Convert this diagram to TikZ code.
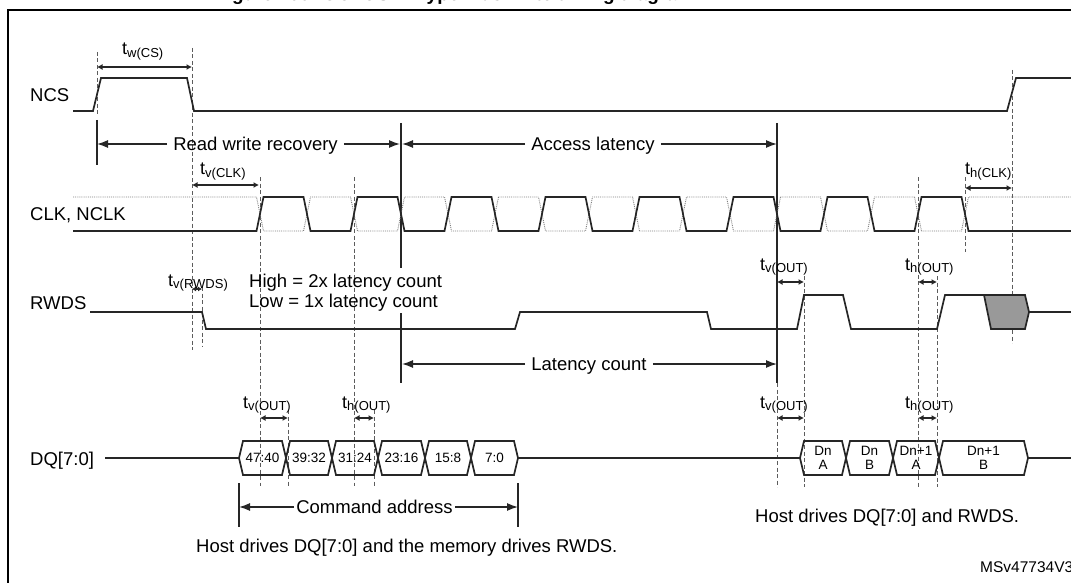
\documentclass[tikz,border=0pt]{standalone}
\usepackage{fontspec}
\setmainfont{Liberation Sans}
\usepackage{xcolor}
\usetikzlibrary{arrows.meta}

\definecolor{sigcol}{HTML}{262626}
\definecolor{guidecol}{HTML}{5C5C5C}
\definecolor{nclkcol}{HTML}{7F7F7F}
\definecolor{maskcol}{HTML}{999999}

\newcommand{\tname}[2]{t\raisebox{-0.3ex}{\fontsize{13}{14}\selectfont #1(#2)}}

\tikzset{
  wave/.style={line width=1.7pt, sigcol},
  nwave/.style={line width=0.9pt, nclkcol, densely dotted},
  guide/.style={line width=0.9pt, guidecol, dash pattern=on 4pt off 2.5pt},
  marker/.style={line width=1.4pt, sigcol},
  bigspan/.style={line width=1.3pt, sigcol, ->, >={Latex[length=11pt,width=8pt]}},
  tspan/.style={line width=1.3pt, sigcol, <->, >={Latex[length=5.5pt,width=6pt]}},
  lbl/.style={inner sep=0pt, anchor=base west, font=\fontsize{18.5}{21}\selectfont},
  spanlbl/.style={inner xsep=6pt, inner ysep=0pt, text height=13pt, text depth=0pt, font=\fontsize{18.5}{21}\selectfont},
  tlbl/.style={inner sep=0pt, anchor=base west, font=\fontsize{18}{20}\selectfont},
  boxlbl/.style={inner sep=0pt, align=center, font=\fontsize{13.5}{14}\selectfont},
}

\begin{document}
\begin{tikzpicture}[x=1pt, y=-1pt]
\useasboundingbox (0,0) rectangle (1071,583);
%%%%% Frame and title %%%%%
\begin{scope}
\clip (0,0) rectangle (1071,8.5);
\node[inner sep=0pt, anchor=base west, font=\bfseries\fontsize{19}{21}\selectfont] (title) at (215,1) {Figure 100. OCTOSPI HyperBus write timing diagram};
\end{scope}
\draw[line width=2.7pt] (8,583) -- (8,10) -- (1071,10);

%%%%% Signal names %%%%%
\node[lbl] (ncs) at (30,102) {NCS};
\node[lbl] (clk) at (30,220) {CLK, NCLK};
\node[lbl] (rwds) at (30,309) {RWDS};
\node[lbl] (dq) at (30,465) {DQ[7:0]};

%%%%% Guide lines %%%%%
\foreach \x/\ya/\yb in {97/52/115, 192/48/350, 202/287/347, 260/177/486, 288/410/486,
  354/177/486, 374/410/486, 777/383/487, 804/276/487, 918/177/487, 937/276/487,
  965/177/252, 1012/70/343}{
  \draw[guide] (\x,\ya) -- (\x,\yb);
}
\draw[marker] (97,120) -- (97,165);
\draw[marker] (401,123) -- (401,268) (401,313) -- (401,383);
\draw[marker] (777,123) -- (777,383);
\draw[marker] (239,483) -- (239,527) (518,483) -- (518,527);

%%%%% NCS %%%%%
\draw[wave] (73,111) -- (93,111) -- (101,78) -- (187,78) -- (194,111) -- (1007,111) -- (1016,78) -- (1071,78);

%%%%% CLK, NCLK %%%%%
\draw[nwave] (73,197) \foreach \k in {0,...,7}{ -- ({260+94*\k-3.5},197) -- ({260+94*\k+3.5},231)
  -- ({307+94*\k-3.5},231) -- ({307+94*\k+3.5},197)} -- (1071,197);
\draw[wave] (73,231) \foreach \k in {0,...,7}{ -- ({260+94*\k-3.5},231) -- ({260+94*\k+3.5},197)
  -- ({307+94*\k-3.5},197) -- ({307+94*\k+3.5},231)} -- (1071,231);

%%%%% RWDS %%%%%
\draw[wave] (90,312) -- (202,312) -- (206,329) -- (515,329) -- (520,312) -- (707,312) -- (711,329)
  -- (797,329) -- (804,295) -- (843,295) -- (851,329) -- (937,329) -- (945,295) -- (984,295);
\draw[wave, fill=maskcol] (984,295) -- (1025,295) -- (1029,312) -- (1025,329) -- (991,329) -- cycle;
\draw[wave] (1029,312) -- (1071,312);

%%%%% DQ[7:0] %%%%%
\draw[wave] (105,458) -- (239,458) (518,458) -- (800,458) (1028,458) -- (1071,458);
\foreach \a/\b/\t in {239/286/47:40, 286/332/39:32, 332/378/31:24, 378/425/23:16, 425/471/15:8,
  471/518/7:0, 800/846/{Dn\\A}, 846/893/{Dn\\B}, 893/939/{Dn+1\\A}, 939/1028/{Dn+1\\B}}{
  \draw[wave] (\a,458) -- (\a+4,441) -- (\b-4,441) -- (\b,458) -- (\b-4,475) -- (\a+4,475) -- cycle;
  \node[boxlbl] (d\a) at ({(\a+\b)/2},458) {\t};
}

%%%%% Spans %%%%%
\draw[tspan] (97,67) -- (192,67);
\node[tlbl] (twcs) at (122,55) {\tname{w}{CS}};
\node[spanlbl] (rwr) at (255.5,144) {Read write recovery};
\draw[bigspan] (rwr.west) -- (97,144);
\draw[bigspan] (rwr.east) -- (400,144);
\node[spanlbl] (acc) at (593,144) {Access latency};
\draw[bigspan] (acc.west) -- (402,144);
\draw[bigspan] (acc.east) -- (777,144);
\draw[tspan] (192,185) -- (259,185);
\node[tlbl] (tvclk) at (200,175) {\tname{v}{CLK}};
\draw[tspan] (965,188) -- (1012,188);
\node[tlbl] (thclk) at (965,175) {\tname{h}{CLK}};
\draw[tspan, >={Latex[length=4pt,width=5pt]}] (192,289) -- (202,289);
\node[tlbl] (tvrwds) at (168,286) {\tname{v}{RWDS}};
\node[lbl] (hi) at (249,287) {High = 2x latency count};
\node[lbl] (lo) at (249,307) {Low = 1x latency count};
\draw[tspan] (777,282) -- (804,282);
\node[tlbl] (tvout1) at (760,270) {\tname{v}{OUT}};
\draw[tspan] (918,282) -- (937,282);
\node[tlbl] (thout1) at (905,270) {\tname{h}{OUT}};
\node[spanlbl] (lat) at (589,364) {Latency count};
\draw[bigspan] (lat.west) -- (402,364);
\draw[bigspan] (lat.east) -- (777,364);
\draw[tspan] (260,418) -- (288,418);
\node[tlbl] (tvout2) at (243,408) {\tname{v}{OUT}};
\draw[tspan] (354,418) -- (374,418);
\node[tlbl] (thout2) at (342,408) {\tname{h}{OUT}};
\draw[tspan] (777,418) -- (804,418);
\node[tlbl] (tvout3) at (760,408) {\tname{v}{OUT}};
\draw[tspan] (918,418) -- (937,418);
\node[tlbl] (thout3) at (905,408) {\tname{h}{OUT}};
\node[spanlbl, inner xsep=2pt] (cmd) at (374.5,507) {Command address};
\draw[bigspan] (cmd.west) -- (239,507);
\draw[bigspan] (cmd.east) -- (518,507);

%%%%% Notes %%%%%
\node[lbl] (note1) at (196,552) {Host drives DQ[7:0] and the memory drives RWDS.};
\node[lbl] (note2) at (755,522) {Host drives DQ[7:0] and RWDS.};
\node[inner sep=0pt, anchor=base west, font=\fontsize{15.5}{17}\selectfont] (ref) at (980,572) {MSv47734V3};
\end{tikzpicture}
\end{document}
